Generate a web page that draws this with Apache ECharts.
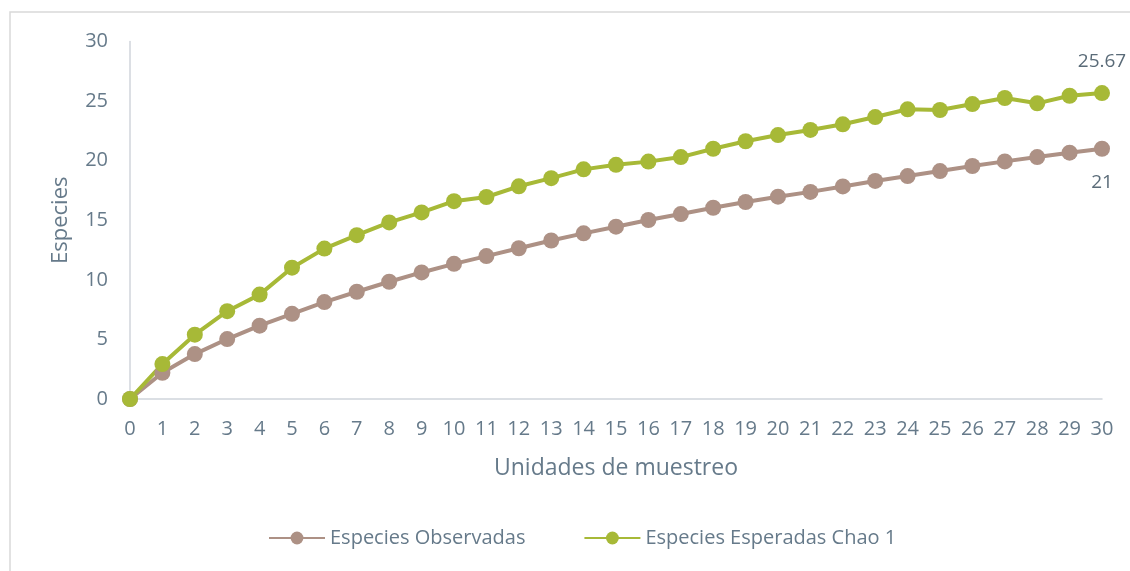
<!DOCTYPE html>
<html>
<head>
<meta charset="utf-8">
<script src="https://cdn.jsdelivr.net/npm/echarts@6/dist/echarts.min.js"></script>
<style>html,body{margin:0;padding:0;background:#fff;}#c{width:1130px;height:571px;}</style>
</head>
<body>
<div id="c"></div>
<script>
const categories = ['0','1','2','3','4','5','6','7','8','9','10','11','12','13','14','15','16','17','18','19','20','21','22','23','24','25','26','27','28','29','30'];
const observadas = [0,2.2,3.77,5.03,6.15,7.15,8.13,9.0,9.84,10.62,11.34,11.99,12.65,13.3,13.9,14.46,15.02,15.52,16.05,16.53,16.98,17.38,17.84,18.3,18.71,19.13,19.55,19.94,20.3,20.67,21];
const esperadas = [0,2.93,5.4,7.37,8.76,11.02,12.62,13.75,14.82,15.66,16.6,16.95,17.85,18.53,19.27,19.65,19.92,20.3,21.0,21.63,22.15,22.58,23.05,23.66,24.31,24.25,24.75,25.26,24.81,25.45,25.67];
const yTicks = [0,5,10,15,20,25,30];
const seriesNames = ['Especies Observadas','Especies Esperadas Chao 1'];

const txt = '#667a8a';
const font = 'Open Sans';
const chart = echarts.init(document.getElementById('c'));
function lastLabel(arr, pos, dist){
  return arr.map((v,i)=> i===arr.length-1 ? {value:v,label:{show:true,position:pos,distance:dist,color:'#5a6b78',fontSize:19,fontFamily:font,formatter:(p)=>String(p.value)}} : v);
}
chart.setOption({
  animation:false,
  graphic:[{type:'rect',shape:{x:10,y:12,width:1200,height:600},style:{fill:'none',stroke:'#d9d9d9',lineWidth:1.5},silent:true,z:-1}],
  grid:{left:130,right:28,top:41.5,bottom:172,containLabel:false},
  legend:{
    bottom:18,left:263,itemGap:58,itemWidth:56,itemHeight:16,
    textStyle:{color:txt,fontSize:20,fontFamily:font,padding:[0,0,0,0]},
    data:seriesNames
  },
  xAxis:{
    type:'category',data:categories,boundaryGap:false,
    name:'Unidades de muestreo',nameLocation:'middle',nameGap:58,
    nameTextStyle:{color:txt,fontSize:23,fontFamily:font},
    axisLine:{lineStyle:{color:'#d0d5db',width:1.5}},
    axisTick:{show:false},
    axisLabel:{color:txt,fontSize:20,fontFamily:font,margin:20,interval:0}
  },
  yAxis:{
    type:'value',min:0,max:30,interval:5,
    name:'Especies',nameLocation:'middle',nameGap:58,
    nameTextStyle:{color:txt,fontSize:22,fontFamily:font},
    axisLine:{show:true,lineStyle:{color:'#d0d5db',width:1.5}},
    splitLine:{show:false},
    axisLabel:{color:txt,fontSize:20,fontFamily:font,margin:22,formatter:(v)=>yTicks.includes(v)?String(v):''}
  },
  series:[
    {name:seriesNames[0],type:'line',data:lastLabel(observadas,'bottom',16),symbol:'circle',symbolSize:16,
     itemStyle:{color:'#ad9185'},lineStyle:{color:'#ad9185',width:4}},
    {name:seriesNames[1],type:'line',data:lastLabel(esperadas,'top',14),symbol:'circle',symbolSize:16,
     itemStyle:{color:'#a7b937'},lineStyle:{color:'#a7b937',width:4}}
  ]
});
</script>
</body>
</html>
